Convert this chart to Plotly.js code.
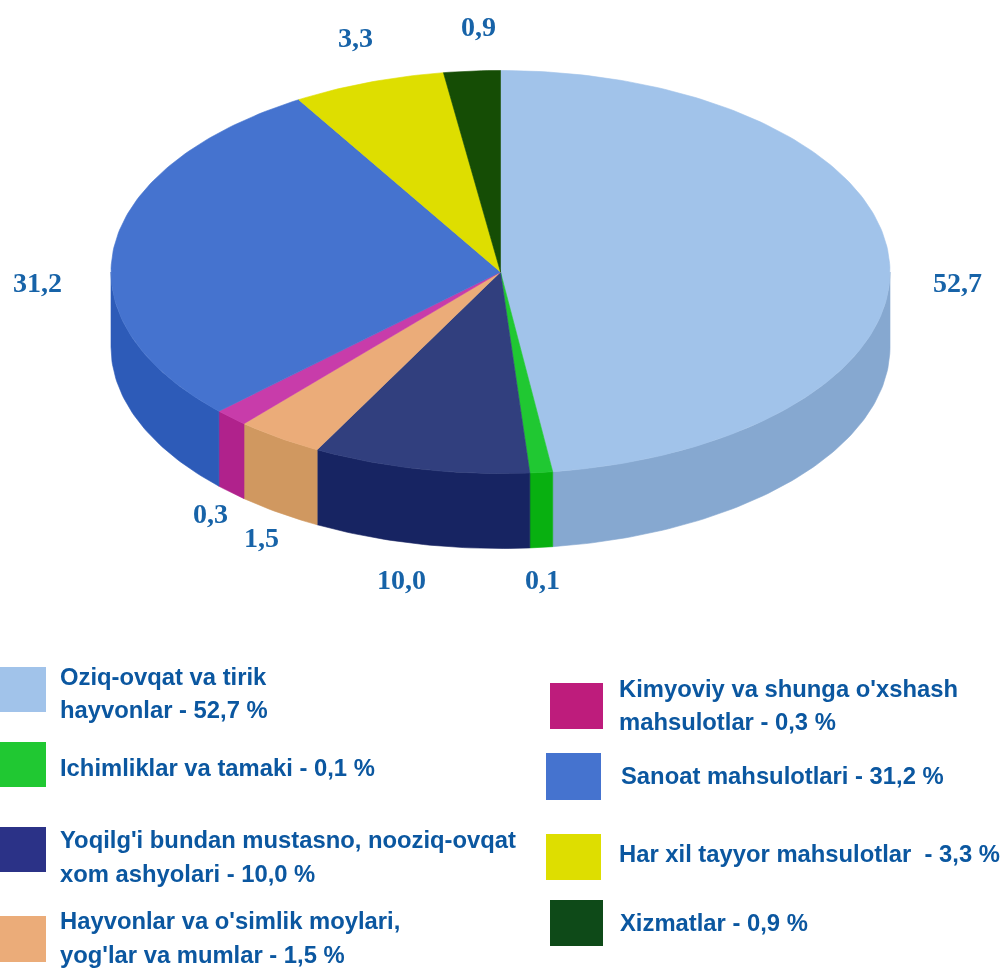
<!DOCTYPE html>
<html>
<head>
<meta charset="utf-8">
<script src="https://cdn.plot.ly/plotly-3.0.1.min.js"></script>
<style>html,body{margin:0;padding:0;background:#fff}#chart{width:1004px;height:969px;filter:blur(0.5px)}</style>
</head>
<body>
<div id="chart"></div>
<script>
// Data
const values = [52.7, 0.1, 10.0, 1.5, 0.3, 31.2, 3.3, 0.9];
// Visible share of each slice as drawn in the picture (the drawn angles differ from the printed values)
const drawnShares = [47.86, 0.94, 9.0, 3.64, 1.42, 28.47, 6.33, 2.34];
const legendFirstLines = ["Oziq-ovqat va tirik", "", "Yoqilg'i bundan mustasno, nooziq-ovqat", "Hayvonlar va o'simlik moylari,", "Kimyoviy va shunga o'xshash", "", "", ""];
const legendLastLines = ["hayvonlar", "Ichimliklar va tamaki", "xom ashyolari", "yog'lar va mumlar", "mahsulotlar", "Sanoat mahsulotlari", "Har xil tayyor mahsulotlar ", "Xizmatlar"];

// Colours
const topColors = ["#A1C3EA", "#20C832", "#313F7E", "#EBAC79", "#C83CAA", "#4573CF", "#DEDE00", "#154D05"];
const sideColors = ["#86A8D0", "#08B010", "#172462", "#D09860", "#B0228C", "#2D5BB8", "#DEDE00", "#154D05"];
const swatchColors = ["#A1C3EA", "#20C832", "#2B3287", "#EBAC79", "#BE1C7C", "#4573CF", "#DEDE00", "#0E4A18"];
const textColor = "#0B57A0";

// Layout geometry
const cx = 500.5, cy = 272, rx = 389.5, ry = 201.5, depth = 75;
const labelX = [957, 542, 401, 261, 210, 37, 355, 478];
const labelY = [282, 579, 579, 537, 513, 282, 37, 26];
const swatchX0 = [0, 0, 0, 0, 550, 546, 546, 550];
const swatchX1 = [46, 46, 46, 46, 603, 601, 601, 603];
const swatchY0 = [667, 742, 827, 916, 683, 753, 834, 900];
const swatchY1 = [712, 787, 872, 962, 729, 800, 880, 946];
const legendX = [58, 58, 58, 58, 617, 619, 617, 618];
const firstLineY = [676, 0, 839, 920, 688, 0, 0, 0];
const lastLineY = [709, 767, 873, 954, 721, 775, 853, 922];

function arc(a0, a1) {
  const n = Math.max(2, Math.ceil(Math.abs(a1 - a0) / 1));
  const xs = [], ys = [];
  for (let i = 0; i <= n; i++) {
    const a = (a0 + (a1 - a0) * i / n) * Math.PI / 180;
    xs.push(cx + rx * Math.sin(a));
    ys.push(cy - ry * Math.cos(a));
  }
  return [xs, ys];
}

const traces = [];
const total = drawnShares.reduce((s, v) => s + v, 0);
let start = 0;
const spans = drawnShares.map(v => { const s = [start, start + v / total * 360]; start = s[1]; return s; });

function poly(xs, ys, color) {
  traces.push({type: "scatter", mode: "lines", x: xs, y: ys, fill: "toself", fillcolor: color,
    line: {color: color, width: 0.6}, hoverinfo: "skip", showlegend: false});
}

// Sides (only the front half of the rim is visible)
spans.forEach((s, i) => {
  const a0 = Math.max(s[0], 90), a1 = Math.min(s[1], 270);
  if (a1 <= a0) return;
  const [ax, ay] = arc(a0, a1);
  const xs = ax.concat(ax.slice().reverse());
  const ys = ay.concat(ay.slice().reverse().map(y => y + depth));
  poly(xs.concat([xs[0]]), ys.concat([ys[0]]), sideColors[i]);
});
// Top faces
spans.forEach((s, i) => {
  const [ax, ay] = arc(s[0], s[1]);
  poly([cx].concat(ax, [cx]), [cy].concat(ay, [cy]), topColors[i]);
});

const fmt = v => v.toFixed(1).replace(".", ",");
const annotations = [];
values.forEach((v, i) => {
  annotations.push({x: labelX[i], y: labelY[i], xref: "x", yref: "y", text: fmt(v), showarrow: false,
    xanchor: "center", yanchor: "middle",
    font: {family: "Liberation Serif", size: 28, color: "#1763A8", weight: 700}});
  const f = {family: "Liberation Sans", size: 23.8, color: textColor, weight: 700};
  if (legendFirstLines[i]) {
    annotations.push({x: legendX[i], y: firstLineY[i], xref: "x", yref: "y", text: legendFirstLines[i],
      showarrow: false, xanchor: "left", yanchor: "middle", font: f});
  }
  annotations.push({x: legendX[i], y: lastLineY[i], xref: "x", yref: "y",
    text: legendLastLines[i] + " - " + fmt(v) + " %", showarrow: false, xanchor: "left", yanchor: "middle", font: f});
});

const shapes = swatchColors.map((c, i) => ({type: "rect", xref: "x", yref: "y",
  x0: swatchX0[i], x1: swatchX1[i], y0: swatchY0[i], y1: swatchY1[i],
  fillcolor: c, line: {width: 0}}));

const layout = {
  width: 1004, height: 969, margin: {l: 0, r: 0, t: 0, b: 0, pad: 0},
  paper_bgcolor: "#fff", plot_bgcolor: "#fff", showlegend: false, hovermode: false,
  xaxis: {range: [0, 1004], visible: false, fixedrange: true},
  yaxis: {range: [969, 0], visible: false, fixedrange: true},
  annotations, shapes
};
Plotly.newPlot("chart", traces, layout, {staticPlot: true, displayModeBar: false});
</script>
</body>
</html>
